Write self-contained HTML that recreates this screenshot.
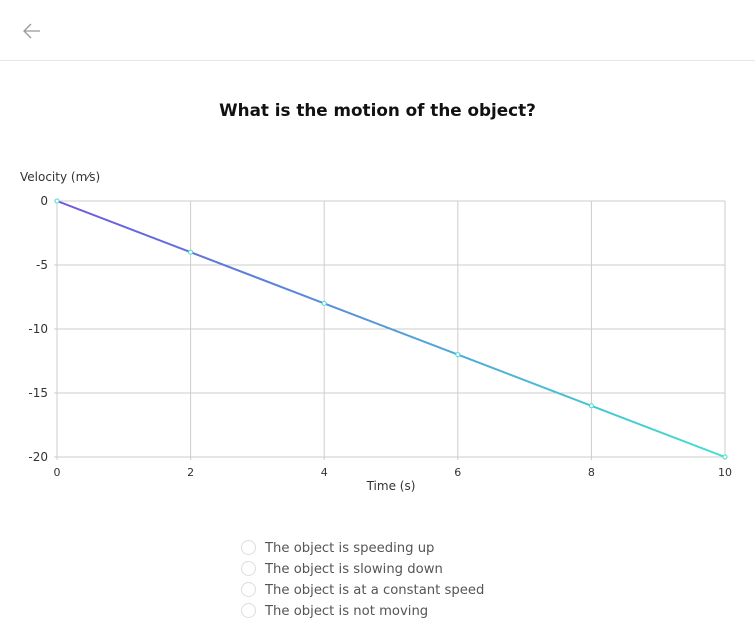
<!DOCTYPE html>
<html><head><meta charset="utf-8"><style>
body{margin:0;width:755px;height:611px;overflow:hidden;background:#fff;font-family:"DejaVu Sans","Liberation Sans",sans-serif;}
.hdr{position:absolute;left:0;top:0;width:755px;height:60px;border-bottom:1px solid #e6e6e6;}
h1{position:absolute;top:100px;left:0;width:755px;text-align:center;margin:0;font-size:16.8px;font-weight:bold;color:#111;}
.opt{position:absolute;left:241px;font-size:13.2px;color:#555;height:21px;line-height:21px;}
.opt span.r{display:inline-block;width:13px;height:13px;border:1px solid #ddd;border-radius:50%;vertical-align:-3px;margin-right:9px;}
</style></head><body>
<div class="hdr">
<svg style="position:absolute;left:22px;top:22px" width="20" height="18"><path d="M18 9H3M9 2L2 9l7 7" fill="none" stroke="#999" stroke-width="1.3"/></svg>
</div>
<h1>What is the motion of the object?</h1>
<svg id="chart" style="position:absolute;left:0;top:160px" width="755" height="340"></svg>
<div class="opt" style="top:538px"><span class="r"></span>The object is speeding up</div>
<div class="opt" style="top:559px"><span class="r"></span>The object is slowing down</div>
<div class="opt" style="top:580px"><span class="r"></span>The object is at a constant speed</div>
<div class="opt" style="top:601px"><span class="r"></span>The object is not moving</div>
<script>
const times=[0,2,4,6,8,10];
const velocities=[0,-4,-8,-12,-16,-20];
const xTicks=[0,2,4,6,8,10];
const yTicks=[0,-5,-10,-15,-20];
const NS="http://www.w3.org/2000/svg";
const svg=document.getElementById('chart');
const X0=57,X1=725,Y0=41,Y1=297;
const sx=v=>X0+(v-0)/(10-0)*(X1-X0);
const sy=v=>Y0+(0-v)/(0-(-20))*(Y1-Y0);
function mk(t,a,p){const e=document.createElementNS(NS,t);for(const k in a)e.setAttribute(k,a[k]);(p||svg).appendChild(e);return e;}
const defs=mk('defs',{});
const g=mk('linearGradient',{id:'lg',x1:'0',x2:'1',y1:'0',y2:'0'},defs);
mk('stop',{offset:'0','stop-color':'#6b57e0'},g);mk('stop',{offset:'1','stop-color':'#3fe0cf'},g);
const t1=mk('text',{x:20,y:21,'font-size':12,fill:'#333'});t1.textContent='Velocity (m⁄s)';

const t2=mk('text',{x:391,y:330,'font-size':12,fill:'#333','text-anchor':'middle'});t2.textContent='Time (s)';

xTicks.forEach(v=>{const l=mk('line',{x1:sx(v),x2:sx(v),y1:Y0,y2:Y1+3,stroke:'#ccc'});

const t=mk('text',{x:sx(v),y:Y1+19,'font-size':11,fill:'#333','text-anchor':'middle'});t.textContent=v;
});
yTicks.forEach(v=>{const l=mk('line',{x1:X0-3,x2:X1,y1:sy(v),y2:sy(v),stroke:'#ccc'});

const t=mk('text',{x:48,y:sy(v)+4,'font-size':12,fill:'#333','text-anchor':'end'});t.textContent=v;
});
const pl=mk('polyline',{points:times.map((t,i)=>sx(t)+','+sy(velocities[i])).join(' '),fill:'none',stroke:'url(#lg)','stroke-width':2});

times.forEach((t,i)=>{const c=mk('circle',{cx:sx(t),cy:sy(velocities[i]),r:2,fill:'#fff',stroke:'#3fe0cf','stroke-width':1});
});
</script>
</body></html>
